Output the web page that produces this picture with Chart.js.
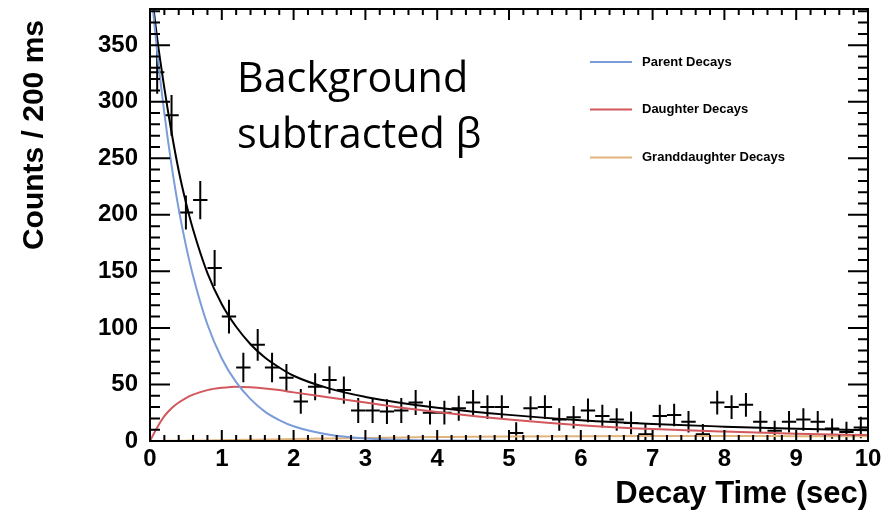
<!DOCTYPE html>
<html>
<head>
<meta charset="utf-8">
<script src="https://cdn.jsdelivr.net/npm/chart.js@4.4.1/dist/chart.umd.min.js"></script>
<style>
  html, body { margin: 0; padding: 0; background: #fff; }
  #wrap { width: 894px; height: 515px; position: relative; }
</style>
</head>
<body>
<div id="wrap"><canvas id="decay"></canvas></div>
<script>
// background subtracted beta counts, 200 ms bins
const binCenters = [0.1, 0.3, 0.5, 0.7, 0.9, 1.1, 1.3, 1.5, 1.7, 1.9,
                    2.1, 2.3, 2.5, 2.7, 2.9, 3.1, 3.3, 3.5, 3.7, 3.9,
                    4.1, 4.3, 4.5, 4.7, 4.9, 5.1, 5.3, 5.5, 5.7, 5.9,
                    6.1, 6.3, 6.5, 6.7, 6.9, 7.1, 7.3, 7.5, 7.7, 7.9,
                    8.1, 8.3, 8.5, 8.7, 8.9, 9.1, 9.3, 9.5, 9.7, 9.9];
const counts = [326, 288, 202, 213, 153, 110, 65, 85, 65, 56,
                35, 48, 54, 45, 27, 27, 26, 27, 34, 25,
                25, 29, 34, 30, 30, 7, 29, 30, 19, 21,
                27, 22, 19, 16, 6, 22, 23, 17, 6, 34,
                30, 32, 17, 9, 17, 19, 17, 11, 8, 12];
const countErrs = [19, 18, 15, 17, 16, 15, 13, 14, 13, 12,
                   11, 12, 12, 12, 11, 11, 11, 11, 11, 10.5,
                   10.5, 11, 11, 10.5, 10.5, 9.5, 10.5, 10.5, 10, 10,
                   10.5, 10, 10, 10, 9, 10, 10, 9.5, 9, 10.5,
                   10.5, 10.5, 9.5, 9, 9.5, 10, 9.5, 9, 9, 9.5];

// fit components
const fitTimes    = [0, 0.1, 0.2, 0.3, 0.4, 0.5, 0.6, 0.8, 1.0, 1.2, 1.4, 1.6, 1.8, 2.0, 2.5, 3.0, 3.5, 4.0, 5.0, 6.0, 7.0, 8.0, 9.0, 10.0];
const parentFit   = [409, 344, 290, 244, 205, 173, 146, 103, 73, 52, 37, 26, 18.5, 13, 5.5, 2.3, 1.0, 0.4, 0.1, 0, 0, 0, 0, 0];
const daughterFit = [0, 12, 22, 29, 34, 38, 41, 45, 47, 48, 47.5, 46.5, 45, 43, 38.5, 34, 29.5, 25.6, 19, 14, 10.6, 8.3, 6.5, 5.2];
const grandFit    = [0, 0.05, 0.1, 0.15, 0.2, 0.3, 0.4, 0.5, 0.7, 0.9, 1.1, 1.3, 1.5, 1.7, 2.3, 2.7, 3.2, 3.5, 4.0, 4.3, 4.4, 4.4, 4.3, 4.2];
const totalFit    = [409, 356, 312, 273, 239, 211, 187, 148.5, 121, 101, 85.6, 73.8, 65, 57.7, 46.3, 39, 33.7, 29.5, 23.1, 18.3, 15, 12.7, 10.8, 9.4];

const xTicks = [0, 1, 2, 3, 4, 5, 6, 7, 8, 9, 10];
const yTicks = [0, 50, 100, 150, 200, 250, 300, 350];
const noteLines = ['Background', 'subtracted \u03b2'];

const sans = '"Liberation Sans", Arial, sans-serif';
const pts = arr => fitTimes.map((t, i) => ({ x: t, y: arr[i] }));

const rootStyle = {
  id: 'rootStyle',
  beforeDatasetsDraw(chart) {
    const { ctx, chartArea: a, scales: { x, y } } = chart;
    ctx.save();
    ctx.beginPath();
    ctx.rect(a.left, a.top, a.right - a.left, a.bottom - a.top);
    ctx.clip();
    ctx.strokeStyle = '#000';
    ctx.lineWidth = 2;
    binCenters.forEach((t, i) => {
      const px = x.getPixelForValue(t);
      const py = y.getPixelForValue(counts[i]);
      ctx.beginPath();
      ctx.moveTo(x.getPixelForValue(t - 0.1), py);
      ctx.lineTo(x.getPixelForValue(t + 0.1), py);
      ctx.moveTo(px, y.getPixelForValue(counts[i] - countErrs[i]));
      ctx.lineTo(px, y.getPixelForValue(counts[i] + countErrs[i]));
      ctx.stroke();
    });
    ctx.restore();
  },
  afterDraw(chart) {
    const { ctx, chartArea: a, scales: { x, y } } = chart;
    ctx.save();
    ctx.strokeStyle = '#000';
    ctx.lineWidth = 2;
    ctx.strokeRect(a.left, a.top, a.right - a.left, a.bottom - a.top);

    // ticks inside the frame on all four sides
    ctx.beginPath();
    for (let k = 0; k <= 50; k++) {
      const px = x.getPixelForValue(k / 5);
      const len = k % 5 === 0 ? 11 : 6;
      ctx.moveTo(px, a.bottom); ctx.lineTo(px, a.bottom - len);
      ctx.moveTo(px, a.top); ctx.lineTo(px, a.top + len);
    }
    for (let v = 0; v <= y.max; v += 10) {
      const py = y.getPixelForValue(v);
      const len = v % 50 === 0 ? 20 : 10;
      ctx.moveTo(a.left, py); ctx.lineTo(a.left + len, py);
      ctx.moveTo(a.right, py); ctx.lineTo(a.right - len, py);
    }
    ctx.stroke();

    // legend
    ctx.font = 'bold 13px ' + sans;
    ctx.textBaseline = 'middle';
    ctx.fillStyle = '#000';
    const rows = [62, 109.5, 157.5];
    chart.data.datasets.filter(d => d.inLegend).forEach((d, i) => {
      ctx.strokeStyle = d.borderColor;
      ctx.lineWidth = 2;
      ctx.beginPath();
      ctx.moveTo(590, rows[i]); ctx.lineTo(632, rows[i]);
      ctx.stroke();
      ctx.fillText(d.label, 642, rows[i]);
    });

    // annotation
    ctx.font = '40px "Open Sans", sans-serif';
    const fs = 40 * 231 / ctx.measureText(noteLines[0]).width;
    ctx.font = fs.toFixed(1) + 'px "Open Sans", sans-serif';
    ctx.textBaseline = 'alphabetic';
    ctx.fillText(noteLines[0], 237, 92);
    ctx.fillText(noteLines[1], 237, 148);

    // y title, anchored near the top like ROOT
    ctx.font = 'bold 30px ' + sans;
    ctx.translate(35, 20);
    ctx.rotate(-Math.PI / 2);
    ctx.textAlign = 'right';
    ctx.textBaseline = 'middle';
    ctx.fillText('Counts / 200 ms', 0, 0);
    ctx.restore();
  }
};

new Chart(document.getElementById('decay'), {
  type: 'line',
  data: {
    datasets: [
      { label: 'Parent Decays', data: pts(parentFit), borderColor: '#7a9cd8', inLegend: true },
      { label: 'Daughter Decays', data: pts(daughterFit), borderColor: '#d2585d', inLegend: true },
      { label: 'Granddaughter Decays', data: pts(grandFit), borderColor: '#e2b47c', inLegend: true },
      { label: 'Total', data: pts(totalFit), borderColor: '#000', inLegend: false }
    ]
  },
  options: {
    responsive: true,
    maintainAspectRatio: false,
    animation: false,
    layout: { padding: { left: 0, right: 26, top: 9, bottom: 0 } },
    elements: {
      point: { radius: 0 },
      line: { borderWidth: 2, cubicInterpolationMode: 'monotone', fill: false }
    },
    datasets: { line: { clip: 0 } },
    plugins: { legend: { display: false }, tooltip: { enabled: false } },
    scales: {
      x: {
        type: 'linear', min: 0, max: 10,
        afterBuildTicks: s => { s.ticks = xTicks.map(v => ({ value: v })); },
        afterFit: s => { s.height = 74; s.paddingLeft = 0; s.paddingRight = 0; },
        grid: { display: false, drawTicks: false },
        border: { display: false },
        ticks: { padding: 4, color: '#000', maxRotation: 0, autoSkip: false,
                 font: { family: sans, size: 24, weight: 'bold' } },
        title: { display: true, text: 'Decay Time (sec)', align: 'end', color: '#000',
                 font: { family: sans, size: 31, weight: 'bold' }, padding: { top: 0, bottom: 2 } }
      },
      y: {
        min: 0, max: 382,
        afterBuildTicks: s => { s.ticks = yTicks.map(v => ({ value: v })); },
        afterFit: s => { s.width = 150; s.paddingTop = 0; s.paddingBottom = 0; },
        grid: { display: false },
        border: { display: false },
        ticks: { padding: 4, color: '#000', autoSkip: false,
                 font: { family: sans, size: 24, weight: 'bold' } },
        title: { display: false }
      }
    }
  },
  plugins: [rootStyle]
});
</script>
</body>
</html>
